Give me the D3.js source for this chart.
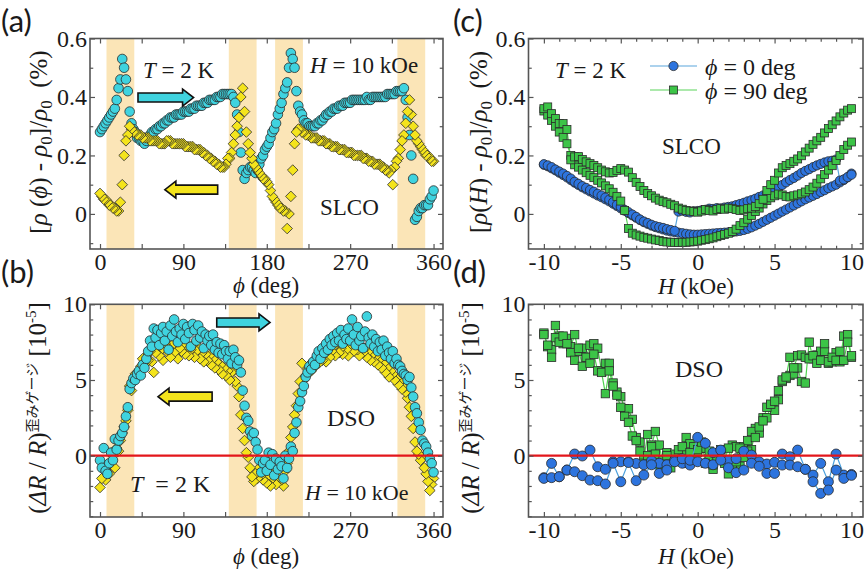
<!DOCTYPE html>
<html>
<head>
<meta charset="utf-8">
<script src="https://cdn.jsdelivr.net/npm/d3@7"></script>
<style>
  body { margin: 0; background: #fff; }
  svg text { font-family: "Liberation Serif", "Times New Roman", serif; fill: #1a1a1a; white-space: pre; }
</style>
</head>
<body>
<svg id="fig" width="864" height="571"></svg>
<script>
// ---------- data ----------
// (a),(b): angle sweep, one point every 2 deg
const phiGrid = d3.range(0, 361, 2);
// shaded angle windows (deg)
const bands = [[7, 37], [139, 169], [189, 219], [321, 351]];

// (a) SLCO, forward sweep (cyan circles)
const slcoFwd = [
  0.28,0.29,0.30,0.31,0.32,0.33,0.34,0.35,0.36,0.39,
  0.43,0.46,0.53,0.50,0.46,0.42,0.35,0.31,0.29,0.28,
  0.26,0.26,0.25,0.25,0.24,0.25,0.26,0.27,0.28,0.28,
  0.29,0.29,0.30,0.30,0.31,0.31,0.32,0.32,0.33,0.33,
  0.33,0.34,0.34,0.34,0.34,0.35,0.35,0.35,0.35,0.36,
  0.36,0.36,0.37,0.37,0.37,0.37,0.38,0.38,0.38,0.39,
  0.39,0.39,0.39,0.40,0.40,0.40,0.41,0.41,0.41,0.41,
  0.41,0.41,0.40,0.38,0.34,0.28,0.21,0.15,0.12,0.14,
  0.15,0.16,0.16,0.15,0.14,0.15,0.17,0.19,0.20,0.22,
  0.23,0.24,0.26,0.28,0.29,0.31,0.34,0.36,0.38,0.41,
  0.43,0.45,0.50,0.55,0.53,0.50,0.42,0.37,0.35,0.34,
  0.32,0.31,0.31,0.30,0.30,0.30,0.30,0.31,0.31,0.32,
  0.32,0.33,0.34,0.34,0.35,0.35,0.36,0.36,0.36,0.37,
  0.37,0.37,0.38,0.38,0.38,0.38,0.39,0.39,0.39,0.39,
  0.39,0.39,0.39,0.39,0.40,0.39,0.39,0.40,0.40,0.40,
  0.40,0.40,0.40,0.40,0.40,0.41,0.41,0.41,0.41,0.41,
  0.42,0.42,0.42,0.42,0.43,0.39,0.33,0.27,0.20,0.12,
  -0.02,-0.01,0.01,0.02,0.02,0.03,0.03,0.03,0.05,0.06,
  0.08
];
// (a) SLCO, backward sweep (yellow diamonds)
const slcoBwd = [
  0.07,0.06,0.05,0.05,0.04,0.03,0.03,0.02,0.02,0.01,
  0.01,0.04,0.10,0.20,0.25,0.27,0.30,0.29,0.28,0.28,
  0.27,0.27,0.27,0.26,0.26,0.26,0.26,0.25,0.25,0.25,
  0.25,0.25,0.24,0.24,0.24,0.24,0.25,0.25,0.25,0.24,
  0.24,0.24,0.24,0.24,0.24,0.24,0.23,0.23,0.23,0.23,
  0.23,0.22,0.22,0.22,0.22,0.21,0.21,0.20,0.20,0.19,
  0.19,0.18,0.18,0.17,0.17,0.16,0.16,0.16,0.17,0.19,
  0.19,0.21,0.24,0.27,0.30,0.33,0.40,0.43,0.35,0.28,
  0.24,0.21,0.19,0.17,0.16,0.15,0.14,0.13,0.12,0.12,
  0.11,0.10,0.08,0.06,0.05,0.04,0.03,0.02,0.02,0.01,
  0.01,-0.05,0.00,0.06,0.15,0.24,0.28,0.29,0.29,0.28,
  0.28,0.27,0.27,0.27,0.26,0.26,0.26,0.26,0.25,0.25,
  0.25,0.25,0.24,0.24,0.24,0.23,0.23,0.23,0.23,0.22,
  0.22,0.22,0.22,0.21,0.21,0.21,0.21,0.20,0.20,0.20,
  0.20,0.20,0.19,0.19,0.19,0.18,0.18,0.18,0.17,0.17,
  0.17,0.17,0.16,0.16,0.15,0.15,0.14,0.15,0.10,0.16,
  0.18,0.19,0.22,0.25,0.27,0.31,0.35,0.39,0.34,0.30,
  0.27,0.25,0.24,0.23,0.22,0.21,0.20,0.20,0.19,0.18,
  0.18
];
// (b) DSO strain gauge, forward sweep (cyan circles), 1e-5
const dsoFwd = [
  -0.3,-0.8,0.5,-1.0,-1.2,-0.5,0.2,-0.3,1.1,0.4,
  1.0,1.3,1.5,1.9,2.6,3.2,4.4,4.8,5.1,5.0,
  5.4,5.6,5.3,6.0,5.8,6.4,6.9,7.6,7.2,8.4,
  7.8,8.3,7.3,8.1,8.5,7.6,8.2,7.0,8.6,7.9,
  9.0,8.2,7.5,8.4,8.0,8.7,7.7,8.5,8.1,7.2,
  8.7,8.3,7.6,8.6,7.8,8.2,7.1,8.0,7.6,7.9,
  7.3,8.0,7.0,7.5,6.8,7.4,6.7,7.3,6.9,6.4,
  6.9,6.1,7.0,6.5,6.0,6.3,5.5,4.3,3.3,2.5,
  2.3,1.6,1.3,1.5,0.9,0.4,-0.3,-1.1,-0.5,-0.3,
  -1.0,0.2,-0.6,0.1,-1.3,-0.2,-0.9,-0.4,-0.7,-1.5,
  0.0,-0.8,-0.2,0.6,0.3,1.5,2.2,3.2,3.6,4.2,
  4.6,5.2,5.5,5.9,5.7,6.2,6.0,6.6,6.9,6.4,
  7.1,6.8,7.4,7.0,7.7,7.3,7.9,7.5,8.1,7.6,
  8.3,7.4,8.0,7.7,8.4,7.6,9.0,8.0,7.3,8.5,
  7.6,7.9,7.1,8.2,9.2,7.8,7.4,8.0,7.2,7.7,
  6.9,7.5,7.0,7.6,6.6,7.2,6.8,6.4,6.9,6.1,
  6.4,6.0,5.9,5.6,5.4,5.3,5.0,5.2,4.5,3.9,
  3.2,2.8,2.2,1.7,1.0,0.8,0.6,0.2,-0.2,-0.5,
  -1.1
];
// (b) DSO strain gauge, backward sweep (yellow diamonds)
const dsoBwd = [
  -2.1,-1.5,-0.9,-1.6,-0.7,-1.2,-0.4,0.0,-0.8,0.5,
  0.3,1.0,1.5,1.9,2.3,3.0,4.6,4.3,4.9,5.4,
  5.2,5.6,5.9,6.4,6.0,6.6,6.3,6.9,6.2,5.5,
  6.8,7.2,6.6,7.0,6.3,7.4,6.9,7.1,6.5,7.3,
  6.8,7.5,6.4,7.1,6.9,7.4,6.7,7.2,6.6,7.0,
  7.3,6.5,6.9,7.2,6.4,6.8,6.2,6.7,6.3,6.6,
  6.0,6.4,5.8,6.2,5.7,6.0,5.4,5.8,5.3,5.6,
  5.0,5.5,5.6,4.9,4.6,3.9,2.7,1.8,1.0,0.2,
  -0.1,-0.8,-1.4,-1.7,-1.2,-1.5,-0.8,-1.3,-1.6,-1.0,
  -1.8,-1.3,-2.0,-1.5,-1.1,-1.9,-1.4,-0.8,-1.6,-2.0,
  -1.0,-0.5,0.3,1.2,1.9,2.7,3.3,4.1,4.9,6.1,
  5.0,5.3,5.7,6.0,5.6,6.2,5.9,6.5,6.1,6.8,
  6.3,6.7,6.2,7.0,6.5,6.9,7.2,6.6,7.4,6.8,
  7.1,6.7,7.5,7.0,6.6,7.3,7.8,6.9,7.4,7.0,
  6.6,7.2,6.8,7.1,6.5,6.9,6.3,6.7,6.2,6.6,
  6.0,6.4,5.8,6.1,5.5,5.8,5.2,5.6,5.4,5.0,
  5.1,4.7,4.9,4.4,4.5,4.2,3.8,3.2,2.6,1.8,
  0.9,0.3,0.1,-0.3,-0.1,-0.8,-1.2,-1.7,-2.3,-1.9,
  -1.5
];

// (c),(d): field sweeps
const hGrid = d3.range(-10, 10.001, 0.25);   // 81 fields, kOe
const hGridD = d3.range(-10, 10.001, 0.5);   // 41 fields, kOe (blue in d)

// (c) SLCO, phi = 0 deg, two sweeps
const slcoH0up = [
  0.170,0.166,0.160,0.152, 0.145,0.138,0.130,0.121, 0.110,0.103,0.095,0.089,
  0.082,0.076,0.069,0.063, 0.056,0.049,0.040,0.031, 0.024,0.014,0.006,-0.002,
  -0.010,-0.019,-0.026,-0.031, -0.037,-0.042,-0.045,-0.048, -0.052,-0.055,-0.058,0.008,
  0.011,0.007,0.005,0.009, 0.010,0.012,0.014,0.018, 0.017,0.020,0.019,0.022,
  0.024,0.026,0.030,0.034, 0.038,0.043,0.047,0.052, 0.058,0.063,0.070,0.076,
  0.084,0.091,0.099,0.108, 0.116,0.123,0.131,0.140, 0.147,0.153,0.160,0.166,
  0.171,0.176,0.180,0.182, 0.186,0.114,0.118,0.126, 0.134
];
const slcoH0dn = [
  0.168,0.163,0.156,0.149, 0.141,0.133,0.125,0.116, 0.107,0.099,0.091,0.084,
  0.077,0.070,0.063,0.057, 0.050,0.043,0.035,0.027, 0.019,0.011,0.003,-0.005,
  -0.013,-0.021,-0.028,-0.034, -0.040,-0.045,-0.049,-0.053, -0.057,-0.060,-0.062,-0.064,
  -0.066,-0.068,-0.070,-0.071, -0.071,-0.070,-0.069,-0.068, -0.067,-0.066,-0.065,-0.064,
  -0.063,-0.062,-0.060,-0.058, -0.055,-0.051,-0.046,-0.040, -0.034,-0.027,-0.020,-0.013,
  -0.006,0.001,0.008,0.015, 0.022,0.029,0.036,0.043, 0.050,0.056,0.062,0.068,
  0.075,0.081,0.088,0.094, 0.100,0.108,0.116,0.125, 0.138
];
// (c) SLCO, phi = 90 deg, two sweeps
const slcoH90dn = [
  0.360,0.366,0.343,0.326, 0.309,0.309,0.289,0.185, 0.195,0.196,0.186,0.178,
  0.172,0.166,0.158,0.150, 0.144,0.140,0.142,0.149, 0.155,0.150,0.143,0.124,
  0.108,0.094,0.080,0.070, 0.062,0.054,0.047,0.042, 0.038,0.033,0.028,0.020,
  0.016,0.012,0.010,0.008, 0.006,0.010,0.015,0.012, 0.010,0.015,0.018,0.016,
  0.020,0.018,0.015,0.012, 0.014,0.018,0.020,0.025, 0.035,0.050,0.080,0.100,
  0.115,0.140,0.158,0.166, 0.172,0.180,0.188,0.199, 0.212,0.225,0.238,0.250,
  0.262,0.277,0.292,0.305, 0.318,0.332,0.345,0.355, 0.360
];
const slcoH90up = [
  0.352,0.338,0.320,0.300, 0.280,0.262,0.240,0.200, 0.168,0.160,0.150,0.141,
  0.132,0.124,0.115,0.106, 0.096,0.086,0.074,0.060, 0.044,0.012,-0.050,-0.066,
  -0.072,-0.076,-0.080,-0.083, -0.086,-0.089,-0.091,-0.094, -0.096,-0.097,-0.097,-0.098,
  -0.097,-0.097,-0.096,-0.095, -0.093,-0.090,-0.088,-0.085, -0.082,-0.078,-0.074,-0.070,
  -0.066,-0.060,-0.052,-0.040, -0.030,-0.018,-0.005,0.008, 0.020,0.034,0.046,0.055,
  0.062,0.068,0.065,0.060, 0.058,0.062,0.065,0.069, 0.075,0.083,0.092,0.105,
  0.120,0.135,0.150,0.165, 0.183,0.200,0.220,0.235, 0.246
];
// (d) DSO strain gauge, phi = 90 deg, two sweeps
const dsoH90a = [
  8.1,7.2,7.0,8.6, 7.9,7.4,7.75,7.2, 8.0,6.9,7.1,6.5, 7.3,7.4,7.1,5.6,
  6.1,6.1,4.8,4.2, 3.9,3.1,3.1,2.4, 1.2,0.9,-0.2,1.4, 0.7,1.6,0.7,-0.6,
  0.2,-0.3,0.1,-0.4, 0.3,1.2,0.8,0.6, 0.2,0.5,0.5,-0.2, -0.9,0.2,0.1,-0.5,
  -1.2,0.7,0.6,-0.7, 0.6,1.0,0.4,1.8, 1.5,2.5,2.5,3.3, 3.0,3.7,4.9,5.1,
  5.3,5.4,5.8,4.9, 4.8,7.5,6.4,6.65, 6.9,6.9,6.1,6.2, 6.8,6.2,7.9,8.0, 6.5
];
const dsoH90b = [
  8.0,7.3,6.5,7.8, 7.5,7.9,7.4,6.8, 6.3,7.1,5.9,6.5, 6.1,6.7,5.6,5.5,
  4.1,5.6,4.6,4.0, 3.2,2.6,2.2,1.3, 1.0,0.3,-0.5,0.0, 0.6,0.1,-0.6,-0.3,
  0.0,-0.8,-0.3,0.4, 0.6,-0.5,0.2,-0.3, 0.4,0.9,-0.5,0.3, -0.6,-0.2,0.4,-0.3,
  0.5,-0.8,-0.4,0.5, -0.1,0.3,1.6,1.2, 1.9,2.3,3.2,3.4, 3.6,4.3,5.0,5.2,
  6.5,5.8,6.6,6.65, 6.5,6.4,6.6,6.1, 6.3,7.4,6.2,6.5, 6.3,6.9,6.3,7.5, 6.6
];
// (d) DSO strain gauge, phi = 0 deg, two sweeps (0.5 kOe steps)
const dsoH0a = [
  -1.45,-0.51, -1.39,-0.95, 0.11,-0.02, 0.37,-0.73, -0.9,-0.4,
  -0.4,-0.4, -0.51,-0.6, -0.33,-0.5, -0.6,-0.3, -0.5,-0.62,
  1.21,0.82, 0.2,0.37, -0.3,-0.2, 0.3,0.04, -0.4,-0.55,
  -0.44,0.11, -0.07,0.37, -0.9,-1.28, -0.51,-1.72, 0.11,-1.28, -1.24
];
const dsoH0b = [
  -1.5,-1.45, -1.39,-0.95, -1.06,-1.32, -1.61,-1.65, -1.87,-0.5,
  -1.72,-0.45, -1.65,-1.28, -0.6,-1.17, -0.95,-0.4, -0.2,-0.3,
  -0.4,-0.5, -0.6,-0.3, -0.8,-1.12, -0.95,-0.5, -0.7,-1.17,
  -1.17,-0.62, -0.62,-0.73, -0.9,-1.72, -2.49,-2.27, -0.95,-1.5, -1.3
];

// tick positions and labels
const phiTicks = d3.range(0, 361, 45), phiLabels = [0, 90, 180, 270, 360];
const rhoTicks = d3.range(-0.1, 0.61, 0.1).map(v => +v.toFixed(1)), rhoLabels = [0, 0.2, 0.4, 0.6];
const strTicks = d3.range(-4, 11, 1), strLabels = [0, 5, 10];
const hTicks = d3.range(-10, 11, 1), hLabels = [-10, -5, 0, 5, 10];

// ---------- colours ----------
const CYAN = "#3fd3df", YELLOW = "#f4e41c", BLUE = "#2d74de", GREEN = "#3cc447";
const BAND = "#fbe5b7", EDGE = "#2b2b2b";

// ---------- scales ----------
const svg = d3.select("#fig");
const xPhi = d3.scaleLinear().domain([-10.8, 370.2]).range([90, 443]);
const yRho = d3.scaleLinear().domain([-0.12, 0.6]).range([249, 38.5]);
const yStr = d3.scaleLinear().domain([-4.05, 10]).range([517, 304.3]);
const xH = d3.scaleLinear().domain([-11, 10.75]).range([528.5, 863]);

function axes(x, y, o) {
  const g = svg.append("g").attr("color", "#555");
  const [xl, xr] = x.range(), [yb, yt] = y.range();
  const lab = (vals, f) => d => vals.includes(d) ? f(d) : "";
  const gb = g.append("g").attr("transform", `translate(0,${yb})`)
    .call(d3.axisBottom(x).tickValues(o.xt).tickSizeInner(-5).tickSizeOuter(0).tickPadding(4).tickFormat(lab(o.xl, String)));
  const gt = g.append("g").attr("transform", `translate(0,${yt})`)
    .call(d3.axisTop(x).tickValues(o.xt).tickSizeInner(-5).tickSizeOuter(0).tickFormat(""));
  const gl = g.append("g").attr("transform", `translate(${xl},0)`)
    .call(d3.axisLeft(y).tickValues(o.yt).tickSizeInner(-5).tickSizeOuter(0).tickPadding(3).tickFormat(lab(o.yl, o.yf)));
  const gr = g.append("g").attr("transform", `translate(${xr},0)`)
    .call(d3.axisRight(y).tickValues(o.yt).tickSizeInner(-5).tickSizeOuter(0).tickFormat(""));
  g.selectAll(".domain").remove();
  [[gb, "y2", o.xMajor], [gt, "y2", o.xMajor], [gl, "x2", o.yMajor], [gr, "x2", o.yMajor]].forEach(([s, a, maj]) => {
    s.selectAll(".tick line").attr("stroke-width", 1.2).each(function (d) {
      if (!maj(d)) d3.select(this).attr(a, +d3.select(this).attr(a) * 0.65);
    });
  });
  g.selectAll("g").attr("font-family", null);
  g.selectAll(".tick text").attr("fill", "#1a1a1a").style("font-size", "24px")
    .style("font-family", '"Liberation Serif", "Times New Roman", serif');
  g.append("rect").attr("x", xl).attr("y", yt).attr("width", xr - xl).attr("height", yb - yt)
    .attr("fill", "none").attr("stroke", "#555").attr("stroke-width", 1.6);
}

function bandRects(y) {
  svg.append("g").selectAll("rect").data(bands).join("rect")
    .attr("x", d => xPhi(d[0])).attr("width", d => xPhi(d[1]) - xPhi(d[0]))
    .attr("y", y.range()[1]).attr("height", y.range()[0] - y.range()[1])
    .attr("fill", BAND);
}

function zeroLine(x, y) {
  svg.append("line").attr("x1", x.range()[0]).attr("x2", x.range()[1])
    .attr("y1", y(0)).attr("y2", y(0)).attr("stroke", "#e3161b").attr("stroke-width", 2.3);
}

const pts = (xs, vs) => xs.map((h, i) => ({ h, v: vs[i] }));

function circles(x, y, data, fill, r = 4.8) {
  svg.append("g").selectAll("circle").data(data).join("circle")
    .attr("cx", d => x(d.h)).attr("cy", d => y(d.v)).attr("r", r)
    .attr("fill", fill).attr("stroke", EDGE).attr("stroke-width", 0.8);
}
function diamonds(x, y, data, fill) {
  svg.append("g").selectAll("path").data(data).join("path")
    .attr("d", "M0,-5.3L5.3,0L0,5.3L-5.3,0Z")
    .attr("transform", d => `translate(${x(d.h)},${y(d.v)})`)
    .attr("fill", fill).attr("stroke", EDGE).attr("stroke-width", 0.8);
}
function squares(x, y, data, fill, s = 8) {
  svg.append("g").selectAll("rect").data(data).join("rect")
    .attr("x", d => x(d.h) - s / 2).attr("y", d => y(d.v) - s / 2).attr("width", s).attr("height", s)
    .attr("fill", fill).attr("stroke", EDGE).attr("stroke-width", 0.8);
}
function trace(x, y, data, color) {
  svg.append("path").datum(data)
    .attr("d", d3.line().x(d => x(d.h)).y(d => y(d.v)))
    .attr("fill", "none").attr("stroke", color).attr("stroke-width", 1.2);
}

function arrow(x, y, h0, h1, v, fill) {
  const xa = x(h0), xb = x(h1), yc = y(v), dir = Math.sign(xb - xa);
  const tip = xb, base = xb - dir * 11;
  const p = [[xa, yc - 4.5], [base, yc - 4.5], [base, yc - 8.5], [tip, yc], [base, yc + 8.5], [base, yc + 4.5], [xa, yc + 4.5]];
  svg.append("path").attr("d", "M" + p.join("L") + "Z")
    .attr("fill", fill).attr("stroke", "#111").attr("stroke-width", 1.6).attr("stroke-linejoin", "miter");
}

// rich text: parts are strings or [string, options]
function rich(x, y, parts, size, opt = {}) {
  const t = svg.append("text").attr("x", x).attr("y", y).style("font-size", size + "px");
  if (opt.rotate) t.attr("x", null).attr("y", null).attr("transform", `translate(${x},${y}) rotate(-90)`);
  if (opt.anchor) t.attr("text-anchor", opt.anchor);
  parts.forEach(p => {
    const [s, o = {}] = typeof p === "string" ? [p] : p;
    const ts = t.append("tspan").text(s);
    if (o.i) ts.style("font-style", "italic");
    if (o.dy) ts.attr("dy", o.dy);
    if (o.fs) ts.style("font-size", o.fs + "px");
    if (o.ff) ts.style("font-family", o.ff);
  });
  return t;
}
function label(x, y, s) {
  svg.append("text").attr("x", x).attr("y", y).text(s)
    .style("font-family", '"Lato", "Open Sans", sans-serif').style("font-size", "31px");
}

// ================= panel (a) =================
bandRects(yRho);
circles(xPhi, yRho, pts(phiGrid, slcoFwd), CYAN);
diamonds(xPhi, yRho, pts(phiGrid, slcoBwd).reverse(), YELLOW);
axes(xPhi, yRho, { xt: phiTicks, xl: phiLabels, yt: rhoTicks, yl: rhoLabels,
  yf: d => d === 0 ? "0" : d.toFixed(1), xMajor: () => true, yMajor: d => Math.abs(d * 10) % 2 < 0.01 });
arrow(xPhi, yRho, 41, 101, 0.398, CYAN);
arrow(xPhi, yRho, 127, 70, 0.083, YELLOW);
rich(143, 78, [["T", { i: 1 }], " = 2 K"], 23);
rich(310, 73, [["H", { i: 1 }], " = 10 kOe"], 23);
rich(320, 215, ["SLCO"], 23);
rich(266, 293, [["ϕ", { i: 1 }], " (deg)"], 23, { anchor: "middle" });
rich(47, 142, ["[", ["ρ", { i: 1 }], " (", ["ϕ", { i: 1 }], ") - ", ["ρ", { i: 1 }], ["0", { fs: 17, dy: 5 }],
  ["]/", { dy: -5 }], ["ρ", { i: 1 }], ["0", { fs: 17, dy: 5 }], ["  (%)", { dy: -5 }]], 25, { rotate: 1, anchor: "middle" });
label(1, 32, "(a)");

// ================= panel (b) =================
bandRects(yStr);
diamonds(xPhi, yStr, pts(phiGrid, dsoBwd).reverse(), YELLOW);
circles(xPhi, yStr, pts(phiGrid, dsoFwd), CYAN);
zeroLine(xPhi, yStr);
axes(xPhi, yStr, { xt: phiTicks, xl: phiLabels, yt: strTicks, yl: strLabels,
  yf: String, xMajor: () => true, yMajor: d => d % 5 === 0 });
arrow(xPhi, yStr, 126, 183.5, 8.8, CYAN);
arrow(xPhi, yStr, 121, 62.6, 3.9, YELLOW);
rich(327, 426, ["DSO"], 24);
rich(130, 492, [["T", { i: 1 }], "  = 2 K"], 24);
rich(305, 500, [["H", { i: 1 }], " = 10 kOe"], 22);
rich(266, 564, [["ϕ", { i: 1 }], " (deg)"], 23, { anchor: "middle" });
const gaugeTitle = [["(", {}], ["ΔR", { i: 1 }], " / ", ["R", { i: 1 }], ")",
  ["歪みゲージ", { fs: 14, dy: -9, ff: '"Noto Sans CJK JP", sans-serif' }],
  [" [10", { dy: 9 }], ["-5", { fs: 15, dy: -10 }], ["]", { dy: 10 }]];
rich(46, 408, gaugeTitle, 25, { rotate: 1, anchor: "middle" });
label(1, 283, "(b)");

// ================= panel (c) =================
trace(xH, yRho, pts(hGrid, slcoH0up), "#5aa6dc");
trace(xH, yRho, pts(hGrid, slcoH0dn), "#5aa6dc");
trace(xH, yRho, pts(hGrid, slcoH90dn), "#5ad45a");
trace(xH, yRho, pts(hGrid, slcoH90up), "#5ad45a");
circles(xH, yRho, pts(hGrid, slcoH0dn), BLUE, 4.6);
circles(xH, yRho, pts(hGrid, slcoH0up), BLUE, 4.6);
squares(xH, yRho, pts(hGrid, slcoH90up), GREEN);
squares(xH, yRho, pts(hGrid, slcoH90dn), GREEN);
axes(xH, yRho, { xt: hTicks, xl: hLabels, yt: rhoTicks, yl: rhoLabels,
  yf: d => d === 0 ? "0" : d.toFixed(1), xMajor: d => d % 5 === 0, yMajor: d => Math.abs(d * 10) % 2 < 0.01 });
rich(555, 78, [["T", { i: 1 }], " = 2 K"], 23);
rich(662, 154, ["SLCO"], 23);
// legend
svg.append("line").attr("x1", 650).attr("x2", 697).attr("y1", 66).attr("y2", 66).attr("stroke", "#5aa6dc").attr("stroke-width", 1.2);
svg.append("circle").attr("cx", 673.5).attr("cy", 66).attr("r", 4.6).attr("fill", BLUE).attr("stroke", EDGE).attr("stroke-width", 0.8);
svg.append("line").attr("x1", 650).attr("x2", 697).attr("y1", 90).attr("y2", 90).attr("stroke", "#5ad45a").attr("stroke-width", 1.2);
svg.append("rect").attr("x", 669.5).attr("y", 86).attr("width", 8).attr("height", 8).attr("fill", GREEN).attr("stroke", EDGE).attr("stroke-width", 0.8);
rich(705, 75, [["ϕ", { i: 1 }], " = 0 deg"], 24);
rich(705, 99, [["ϕ", { i: 1 }], " = 90 deg"], 24);
rich(696, 294, [["H", { i: 1 }], " (kOe)"], 23, { anchor: "middle" });
rich(487, 142, ["[", ["ρ", { i: 1 }], "(", ["H", { i: 1 }], ") - ", ["ρ", { i: 1 }], ["0", { fs: 17, dy: 5 }],
  ["]/", { dy: -5 }], ["ρ", { i: 1 }], ["0", { fs: 17, dy: 5 }], ["  (%)", { dy: -5 }]], 25, { rotate: 1, anchor: "middle" });
label(453, 32, "(c)");

// ================= panel (d) =================
trace(xH, yStr, pts(hGrid, dsoH90a), "#4fd24f");
trace(xH, yStr, pts(hGrid, dsoH90b), "#4fd24f");
squares(xH, yStr, pts(hGrid, dsoH90a), GREEN, 8.4);
squares(xH, yStr, pts(hGrid, dsoH90b), GREEN, 8.4);
trace(xH, yStr, pts(hGridD, dsoH0a), "#4a9fdc");
trace(xH, yStr, pts(hGridD, dsoH0b), "#4a9fdc");
circles(xH, yStr, pts(hGridD, dsoH0a), BLUE, 5);
circles(xH, yStr, pts(hGridD, dsoH0b), BLUE, 5);
zeroLine(xH, yStr);
axes(xH, yStr, { xt: hTicks, xl: hLabels, yt: strTicks, yl: strLabels,
  yf: String, xMajor: d => d % 5 === 0, yMajor: d => d % 5 === 0 });
rich(675, 377, ["DSO"], 24);
rich(696, 564, [["H", { i: 1 }], " (kOe)"], 23, { anchor: "middle" });
rich(479, 408, gaugeTitle, 25, { rotate: 1, anchor: "middle" });
label(453, 283, "(d)");
</script>
</body>
</html>
